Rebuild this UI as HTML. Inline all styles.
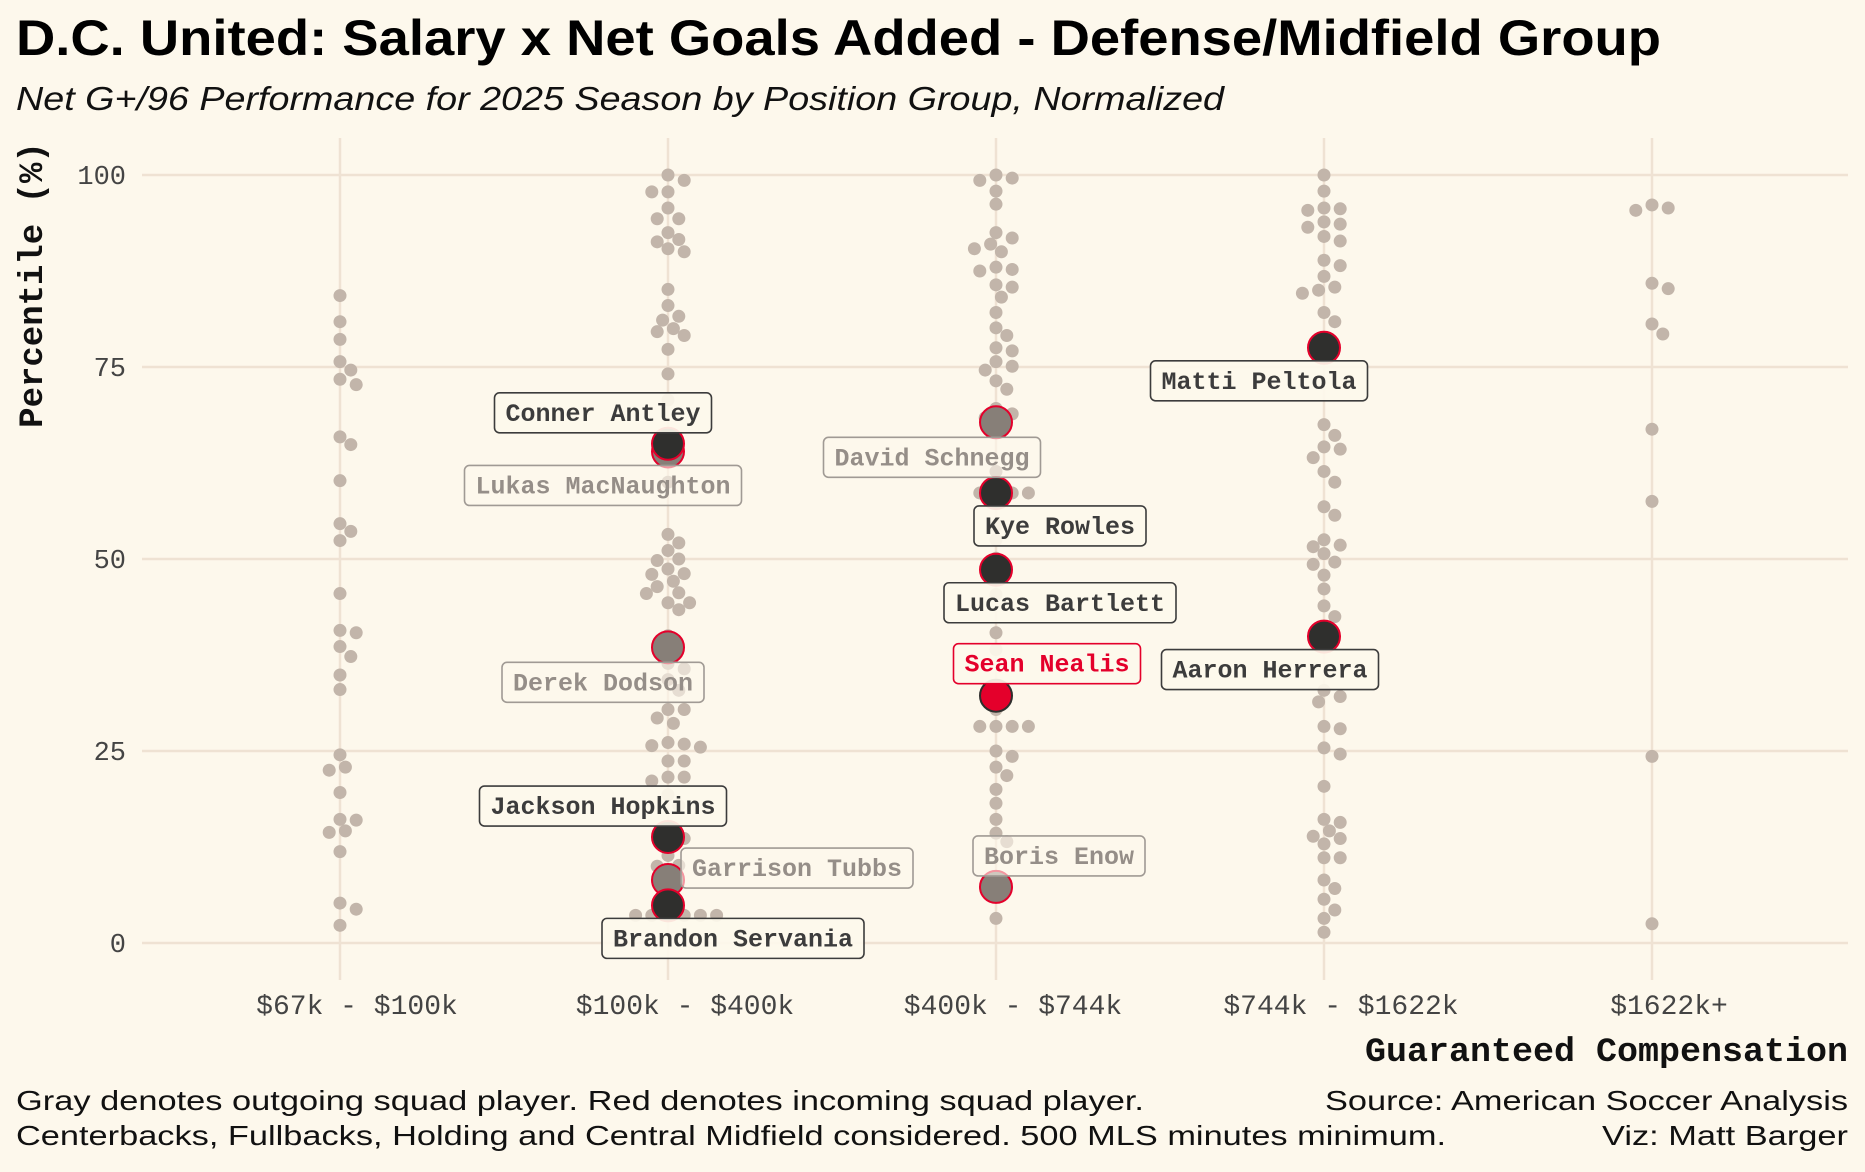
<!DOCTYPE html>
<html><head><meta charset="utf-8"><style>
html,body{margin:0;padding:0;background:#fdf8ec;}
svg{display:block;}
</style></head><body>
<svg id="chart" width="1865" height="1172" viewBox="0 0 1865 1172" xmlns="http://www.w3.org/2000/svg">
<rect width="1865" height="1172" fill="#fdf8ec"/>
<text x="16" y="55" font-family="Liberation Sans, sans-serif" font-weight="bold" font-size="50" textLength="1645" lengthAdjust="spacingAndGlyphs" fill="#000">D.C. United: Salary x Net Goals Added - Defense/Midfield Group</text>
<text x="16" y="110" font-family="Liberation Sans, sans-serif" font-style="italic" font-size="33" textLength="1208" lengthAdjust="spacingAndGlyphs" fill="#111">Net G+/96 Performance for 2025 Season by Position Group, Normalized</text>
<g id="grid"></g>
<g id="yticks"></g>
<g id="xticks"></g>
<text transform="translate(42,285) rotate(-90)" text-anchor="middle" font-family="Liberation Mono, monospace" font-weight="bold" font-size="34" fill="#111">Percentile (%)</text>
<text x="1848" y="1061" text-anchor="end" font-family="Liberation Mono, monospace" font-weight="bold" font-size="34" textLength="483" lengthAdjust="spacingAndGlyphs" fill="#111">Guaranteed Compensation</text>
<g id="dots"></g>
<g id="hl"></g>
<g id="labels"></g>
<g font-family="Liberation Sans, sans-serif" font-size="28" fill="#111">
<text x="16" y="1110" textLength="1128" lengthAdjust="spacingAndGlyphs">Gray denotes outgoing squad player. Red denotes incoming squad player.</text>
<text x="16" y="1145" textLength="1430" lengthAdjust="spacingAndGlyphs">Centerbacks, Fullbacks, Holding and Central Midfield considered. 500 MLS minutes minimum.</text>
<text x="1848" y="1110" text-anchor="end" textLength="523" lengthAdjust="spacingAndGlyphs">Source: American Soccer Analysis</text>
<text x="1848" y="1145" text-anchor="end" textLength="246" lengthAdjust="spacingAndGlyphs">Viz: Matt Barger</text>
</g>
</svg>
<script>
const categories = ["$67k - $100k","$100k - $400k","$400k - $744k","$744k - $1622k","$1622k+"];
const yTicks = [0,25,50,75,100];
const col0 = [84.3,80.9,78.6,75.7,74.6,73.4,72.7,65.9,64.9,60.2,54.6,53.6,52.4,45.5,40.4,40.7,38.6,37.3,34.9,33.0,24.5,22.9,22.5,19.6,16.0,16.1,14.4,14.6,11.9,5.2,4.4,2.3];
const col1 = [100,99.3,97.8,97.8,95.7,94.3,94.3,92.5,91.3,91.6,90,90.4,85.1,83,81.6,81.1,80,79.6,79.1,77.3,74.1,70.7,66,63,60,53.2,52.1,51.1,50,49.8,48.7,48.1,48,47.1,46.4,45.6,45.5,44.3,44.3,43.4,40,38.4,36.4,35.7,34.3,32.9,30.4,30.4,29.3,28.6,26.1,25.9,25.7,25.5,23.7,23.7,21.6,21.6,21.1,19.3,17.9,14.3,13.6,11.4,10.1,10,4.3,3.6,3.6,3.6,3.6,3.6];
const col2 = [100,99.6,99.3,97.9,96.2,92.5,91.8,91,90.4,90,88,87.7,87.5,85.7,85.4,84.1,82.1,80.1,79.1,77.5,77.1,75.7,75.1,74.6,73.2,72.1,69.6,68.9,68.4,66.8,61.4,58.6,58.6,58.6,58.6,54.3,52.5,50.1,45.4,40.4,38.2,30.4,28.2,28.2,28.2,28.2,25,24.3,22.9,21.8,20,18.2,16.1,14.3,13.2,7.5,3.2];
const col3 = [100,97.9,95.7,95.6,95.4,93.9,93.6,93.2,92,91.4,88.9,88.2,86.8,85.4,85,84.6,82.1,80.9,67.5,66.1,64.6,64.3,63.2,61.4,60,56.8,55.7,52.5,51.8,51.6,50.7,49.6,49.3,47.9,46.1,43.9,42.5,40,32.9,32.1,31.4,28.2,27.9,25.4,24.6,20.4,16.1,15.7,14.6,13.9,13.6,12.9,11.1,11.1,8.2,7.1,5.7,4.3,3.2,1.4];
const col4 = [96.1,95.7,95.4,85.9,85.2,80.6,79.3,66.9,57.5,24.3,2.5];
const playerNames = ["Conner Antley","Lukas MacNaughton","Derek Dodson","Jackson Hopkins","Garrison Tubbs","Brandon Servania","David Schnegg","Kye Rowles","Lucas Bartlett","Sean Nealis","Boris Enow","Matti Peltola","Aaron Herrera"];
const playerCols = [1,1,1,1,1,1,2,2,2,2,2,3,3];
const playerValues = [65,64,38.5,13.8,8.2,4.9,67.8,58.6,48.6,32.2,7.3,77.5,39.9];
const playerStatus = ["stay","out","out","stay","out","stay","out","stay","stay","in","out","stay","stay"];
// label placement offsets (layout, not data)
const labelDX = [-65,-65,-65,-65,129,65,-64,64,64,51,63,-65,-54];
const labelDY = [-31,34,35,-31,-12,33,35,33,33,-32,-31,33,33];

const NS="http://www.w3.org/2000/svg";
const X0=340, XSTEP=328, Y0=943, Y100=175;
const xScale=i=>X0+i*XSTEP;
const yScale=v=>Y0+(Y100-Y0)*v/100;
function mk(tag,attrs,parent){const e=document.createElementNS(NS,tag);for(const k in attrs)e.setAttribute(k,attrs[k]);parent.appendChild(e);return e;}
const grid=document.getElementById('grid');
yTicks.forEach(t=>{
  const l=mk('line',{x1:142,x2:1848,y1:yScale(t),y2:yScale(t),stroke:'#efe2d3','stroke-width':2.5},grid);
  
  
  const tx=mk('text',{x:126,y:yScale(t)+9,'text-anchor':'end','font-family':'Liberation Mono, monospace','font-size':27,fill:'#444'},document.getElementById('yticks'));
  tx.textContent=t;
  
  
});
categories.forEach((c,i)=>{
  const l=mk('line',{x1:xScale(i),x2:xScale(i),y1:138,y2:980,stroke:'#efe2d3','stroke-width':2.5},grid);
  
  
  const tx=mk('text',{x:xScale(i)+17,y:1014,'text-anchor':'middle','font-family':'Liberation Mono, monospace','font-size':28,fill:'#444'},document.getElementById('xticks'));
  tx.textContent=c;
  
  
});
// beeswarm
const R=6.5, D=13.5;
function swarm(vals,ci){
  const placed=[];
  vals.slice().sort((a,b)=>b-a).forEach(v=>{
    const y=yScale(v);
    let off=0;
    for(let k=0;k<40;k++){
      const cand=k===0?0:(k%2?1:-1)*Math.ceil(k/2)*D*0.4;
      if(placed.every(p=>Math.hypot(p.x-cand,p.y-y)>=D-1)){off=cand;break;}
    }
    placed.push({x:off,y});
    const c=mk('circle',{cx:xScale(ci)+off,cy:y,r:R,fill:'#c2b5aa'},document.getElementById('dots'));
    
    
  });
}
[col0,col1,col2,col3,col4].forEach((c,i)=>swarm(c,i));
const order=playerNames.map((n,i)=>i).sort((a,b)=>(playerStatus[a]==='out'?0:1)-(playerStatus[b]==='out'?0:1));
order.forEach(i=>{
  const st=playerStatus[i];
  const fill=st==='out'?'#877f78':st==='in'?'#e4002b':'#2f2f2d';
  const stroke=st==='in'?'#2f2f2d':'#e4002b';
  const c=mk('circle',{cx:xScale(playerCols[i]),cy:yScale(playerValues[i]),r:16,fill:fill,stroke:stroke,'stroke-width':2},document.getElementById('hl'));
  
  
});
const lg=document.getElementById('labels');
playerNames.forEach((n,i)=>{
  const st=playerStatus[i];
  const col=st==='out'?'#958e88':st==='in'?'#e4002b':'#3c3c3c';
  const bcol=st==='out'?'#a09a94':st==='in'?'#e4002b':'#3c3c3c';
  const cx=xScale(playerCols[i])+labelDX[i], cy=yScale(playerValues[i])+labelDY[i];
  const w=n.length*15+22, h=40;
  const g=mk('g',{},lg);
  
  
  mk('rect',{x:cx-w/2,y:cy-h/2,width:w,height:h,rx:5,fill:'#fdf8ec','fill-opacity':st==='out'?0.6:0.92,stroke:bcol,'stroke-width':1.6},g);
  const t=mk('text',{x:cx,y:cy+8,'text-anchor':'middle','font-family':'Liberation Mono, monospace','font-weight':'bold','font-size':25,fill:col},g);
  t.textContent=n;
});
</script>
</body></html>
